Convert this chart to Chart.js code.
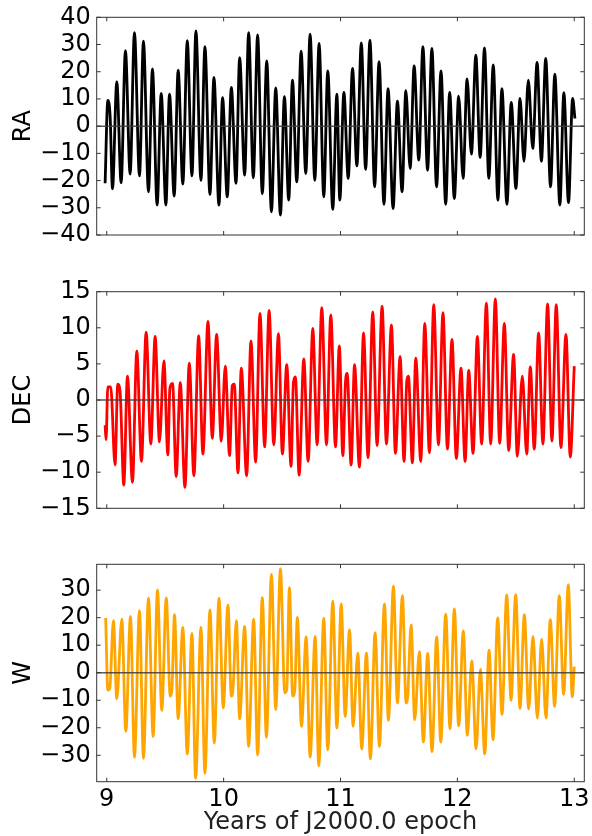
<!DOCTYPE html>
<html>
<head>
<meta charset="utf-8">
<script src="https://cdn.jsdelivr.net/npm/chart.js@4.4.1/dist/chart.umd.min.js"></script>
<style>
  html, body { margin: 0; padding: 0; background: #fff; }
  .panel { position: absolute; left: 0; width: 592px; }
</style>
</head>
<body>
<div class="panel" style="top:0px;height:250px"><canvas id="ra-chart"></canvas></div>
<div class="panel" style="top:275px;height:250px"><canvas id="dec-chart"></canvas></div>
<div class="panel" style="top:545px;height:291px"><canvas id="w-chart"></canvas></div>
<script>
// Các cực đại / cực tiểu của từng chuỗi (năm, giá trị)
const xTicks = [9, 10, 11, 12, 13];

const raYears = [
  8.986, 9.009, 9.029, 9.049, 9.086, 9.123, 9.160, 9.200, 9.237, 9.280,
  9.314, 9.357, 9.391, 9.431, 9.466, 9.506, 9.537, 9.577, 9.611, 9.651,
  9.689, 9.729, 9.763, 9.806, 9.840, 9.883, 9.917, 9.960, 9.991, 10.031,
  10.066, 10.106, 10.137, 10.180, 10.214, 10.254, 10.291, 10.331, 10.369, 10.409,
  10.446, 10.486, 10.520, 10.557, 10.589, 10.626, 10.663, 10.703, 10.740, 10.780,
  10.817, 10.857, 10.891, 10.934, 10.969, 10.994, 11.029, 11.066, 11.103, 11.140,
  11.178, 11.215, 11.252, 11.292, 11.330, 11.372, 11.407, 11.450, 11.487, 11.527,
  11.559, 11.596, 11.630, 11.670, 11.705, 11.745, 11.782, 11.822, 11.860, 11.900,
  11.934, 11.974, 12.011, 12.049, 12.083, 12.120, 12.158, 12.195, 12.232, 12.269,
  12.307, 12.347, 12.381, 12.424, 12.461, 12.501, 12.536, 12.570, 12.607, 12.645,
  12.682, 12.719, 12.756, 12.797, 12.834, 12.877, 12.911, 12.951, 12.986, 13.006
];
const raValues = [
  -21, 9.5, 3.5, -23, 16.3, -20.8, 27.7, -17.6, 34.4, -18.3,
  31.2, -24.1, 21, -29, 12, -29, 11.8, -25.7, 20.6, -21.3,
  31.4, -18.3, 35, -19.9, 29.2, -25.1, 17.9, -29, 10.5, -26,
  14.2, -21, 25.2, -18, 34.4, -19, 33.5, -24.8, 24, -31.5,
  14.1, -32.7, 10.8, -27.2, 16.9, -20.5, 27.6, -17.4, 33.8, -19.9,
  30.4, -26, 20.3, -30.6, 11.8, -27.2, 12.4, -19.2, 21.2, -14.6,
  30.6, -15.9, 31.6, -22.3, 23.7, -28.7, 13.8, -30.3, 9.2, -24.1,
  13, -15.6, 22.1, -12.5, 29.2, -16.2, 28.6, -22.3, 20.3, -28.7,
  12.4, -26.6, 11, -19.2, 17.4, -10.3, 26.1, -11.5, 28.8, -19.2,
  22.5, -27.2, 13.8, -28.7, 8.7, -22.9, 10.2, -12.9, 16.9, -8.2,
  23.4, -12.9, 24.9, -22.3, 19.1, -29, 12.3, -28.1, 10.2, 2.8
];

const decYears = [
  8.986, 8.994, 9.009, 9.034, 9.071, 9.094, 9.114, 9.146, 9.177, 9.220,
  9.257, 9.297, 9.337, 9.377, 9.414, 9.451, 9.489, 9.523, 9.540, 9.563,
  9.594, 9.629, 9.669, 9.706, 9.746, 9.786, 9.823, 9.866, 9.903, 9.940,
  9.980, 10.014, 10.051, 10.074, 10.091, 10.123, 10.151, 10.197, 10.234, 10.274,
  10.311, 10.351, 10.389, 10.429, 10.469, 10.503, 10.540, 10.577, 10.597, 10.614,
  10.646, 10.686, 10.723, 10.763, 10.800, 10.840, 10.880, 10.917, 10.957, 10.990,
  11.020, 11.043, 11.057, 11.091, 11.120, 11.162, 11.197, 11.236, 11.276, 11.313,
  11.356, 11.393, 11.436, 11.470, 11.510, 11.544, 11.567, 11.581, 11.615, 11.644,
  11.687, 11.721, 11.761, 11.798, 11.838, 11.877, 11.915, 11.954, 11.991, 12.031,
  12.066, 12.097, 12.134, 12.171, 12.208, 12.248, 12.285, 12.325, 12.362, 12.402,
  12.439, 12.481, 12.513, 12.556, 12.593, 12.624, 12.658, 12.695, 12.732, 12.772,
  12.809, 12.846, 12.886, 12.929, 12.966, 13.000
];
const decValues = [
  -3.5, -5.5, 1.8, 1.8, -9, 2.2, 1.2, -11.8, 3.3, -11.4,
  6.8, -8.5, 9.4, -6.1, 8.8, -5.8, 5.4, -7.6, 1.6, 2.3,
  -10.6, 2.4, -12.1, 5.1, -10.5, 8.9, -7.5, 10.9, -5.3, 9.1,
  -5.7, 4.7, -7.7, 2.0, 2.2, -10.1, 4.4, -10.5, 8.2, -8.6,
  12, -6.5, 12.4, -6.2, 9.2, -7.5, 4.9, -9.2, 2.4, 3.2,
  -10.4, 5.7, -8.5, 9.9, -6.2, 12.8, -6.2, 11.8, -6.5, 7.5,
  -7.7, 2.6, 3.7, -9, 4.9, -9.3, 9.3, -8, 12.2, -6.3,
  13, -6.1, 10.4, -7.4, 6, -8.5, 2.6, 3.3, -8.7, 5.8,
  -8.5, 10.6, -7.3, 13.2, -6.2, 12.1, -6.8, 8.4, -8.1, 4.4,
  -8.5, 4.1, -7.4, 8.8, -6.1, 13.4, -6.1, 14, -6, 10.6,
  -7, 6.3, -7.8, 3.3, -7.5, 4.6, -6.8, 9.3, -6.1, 13.3,
  -5.7, 13.2, -6.6, 9.1, -7.9, 4.7
];

const wYears = [
  8.991, 9.009, 9.026, 9.057, 9.086, 9.129, 9.163, 9.203, 9.237, 9.280,
  9.314, 9.357, 9.397, 9.434, 9.471, 9.509, 9.543, 9.557, 9.580, 9.611,
  9.651, 9.689, 9.729, 9.760, 9.806, 9.840, 9.883, 9.920, 9.960, 9.997,
  10.037, 10.066, 10.080, 10.109, 10.137, 10.180, 10.214, 10.257, 10.291, 10.331,
  10.366, 10.409, 10.446, 10.486, 10.523, 10.540, 10.563, 10.591, 10.609, 10.631,
  10.666, 10.706, 10.740, 10.783, 10.814, 10.857, 10.891, 10.934, 10.969, 11.006,
  11.040, 11.077, 11.108, 11.148, 11.182, 11.222, 11.256, 11.296, 11.333, 11.376,
  11.410, 11.453, 11.487, 11.530, 11.561, 11.575, 11.604, 11.635, 11.675, 11.709,
  11.746, 11.783, 11.823, 11.858, 11.900, 11.937, 11.974, 12.011, 12.051, 12.085,
  12.123, 12.160, 12.197, 12.234, 12.271, 12.305, 12.345, 12.382, 12.422, 12.459,
  12.499, 12.536, 12.573, 12.610, 12.647, 12.684, 12.721, 12.758, 12.795, 12.832,
  12.872, 12.909, 12.949, 12.983, 13.000
];
const wValues = [
  19.9, -6.3, -5.5, 18.9, -9.5, 19.5, -21.3, 20.5, -30.7, 22.6,
  -31.1, 27.1, -23.2, 30.1, -13.7, 27.2, -8.5, -6.5, 21.1, -16.7,
  16.5, -29.6, 14.3, -38.4, 16.5, -36.6, 22.8, -25.6, 27.1, -12.8,
  24.6, -8.5, -6.1, 18.9, -16.8, 16.8, -26.8, 19.5, -29.9, 27.4,
  -23.5, 35.7, -13.4, 37.8, -7.3, -6.1, 30.9, -8.5, -6.1, 20.1,
  -19.5, 13, -30.7, 13.2, -33.8, 19.8, -28, 26, -20.1, 25,
  -15.9, 15.6, -19.5, 7.1, -27.7, 7.1, -31.3, 14.6, -26.8, 25,
  -17.3, 31.5, -11, 28, -11, -8.5, 17.4, -17.1, 7.7, -25.2,
  7, -28.7, 13, -25.2, 21.3, -20.4, 23.2, -19.3, 15.2, -22.8,
  4.3, -27.7, 1.2, -29.5, 8.2, -24.4, 19.9, -15.2, 28.3, -10,
  28.4, -13, 21.1, -13.2, 13.2, -16.5, 12.2, -16.5, 19.3, -12.2,
  28, -7.9, 32, -8.8, 2.2
];

const FONT = { family: 'DejaVu Sans', size: 24 };

// Khung, vạch chia hướng vào trong và đường 0 (kiểu matplotlib classic)
const framePlugin = {
  id: 'frame',
  afterDatasetsDraw(chart) {
    const { ctx, chartArea: a, scales: { x, y } } = chart;
    ctx.save();
    const y0 = y.getPixelForValue(0);
    ctx.strokeStyle = 'rgba(60,60,60,0.85)';
    ctx.lineWidth = 1.5;
    ctx.beginPath();
    ctx.moveTo(a.left, y0);
    ctx.lineTo(a.right, y0);
    ctx.stroke();

    ctx.strokeStyle = '#333';
    ctx.lineWidth = 1;
    ctx.strokeRect(a.left, a.top, a.right - a.left, a.bottom - a.top);
    ctx.beginPath();
    x.ticks.forEach(t => {
      const px = x.getPixelForValue(t.value);
      ctx.moveTo(px, a.bottom); ctx.lineTo(px, a.bottom - 4);
      ctx.moveTo(px, a.top); ctx.lineTo(px, a.top + 4);
    });
    y.ticks.forEach(t => {
      const py = y.getPixelForValue(t.value);
      ctx.moveTo(a.left, py); ctx.lineTo(a.left + 4, py);
      ctx.moveTo(a.right, py); ctx.lineTo(a.right - 4, py);
    });
    ctx.stroke();
    ctx.restore();
  }
};

function makePanel(id, years, values, color, yMin, yMax, step, label, pad, showX) {
  const points = years.map((t, i) => ({ x: t, y: values[i] }));
  return new Chart(document.getElementById(id), {
    type: 'line',
    data: {
      datasets: [{
        data: points,
        borderColor: color,
        borderWidth: 2.8,
        pointRadius: 0,
        cubicInterpolationMode: 'monotone',
        fill: false
      }]
    },
    options: {
      responsive: true,
      maintainAspectRatio: false,
      animation: false,
      events: [],
      layout: { padding: pad },
      plugins: { legend: { display: false }, tooltip: { enabled: false } },
      scales: {
        x: {
          type: 'linear',
          min: 8.914,
          max: 13.086,
          grid: { display: false, drawTicks: false },
          border: { display: false },
          ticks: {
            display: showX,
            stepSize: 1,
            includeBounds: false,
            autoSkip: false,
            color: '#000',
            font: FONT,
            padding: 4,
            maxRotation: 0
          },
          title: {
            display: showX,
            text: 'Years of J2000.0 epoch',
            color: '#222',
            font: FONT,
            padding: { top: 0, bottom: -1 }
          },
          afterBuildTicks: s => { s.ticks = xTicks.map(v => ({ value: v })); },
          afterFit: s => {
            s.height = showX ? 54.3 : 0;
            s.paddingLeft = 0;
            s.paddingRight = 0;
          }
        },
        y: {
          min: yMin,
          max: yMax,
          grid: { display: false, drawTicks: false },
          border: { display: false },
          ticks: {
            stepSize: step,
            includeBounds: false,
            autoSkip: false,
            color: '#000',
            font: FONT,
            padding: 6,
            callback: v => (v < 0 ? '\u2212' + Math.abs(v) : '' + v)
          },
          title: {
            display: true,
            text: label,
            color: '#000',
            font: FONT,
            padding: { top: 9, bottom: 0 }
          },
          afterFit: s => {
            s.width = 96.7;
            s.paddingTop = 0;
            s.paddingBottom = 0;
          }
        }
      }
    },
    plugins: [framePlugin]
  });
}

makePanel('ra-chart', raYears, raValues, '#000000', -40, 40, 10, 'RA',
  { left: 0, right: 7.7, top: 17.3, bottom: 15 }, false);
makePanel('dec-chart', decYears, decValues, '#ff0000', -15, 15, 5, 'DEC',
  { left: 0, right: 7.7, top: 16.7, bottom: 16.7 }, false);
makePanel('w-chart', wYears, wValues, '#ffa500', -39.6, 39.4, 10, 'W',
  { left: 0, right: 7.7, top: 19.3, bottom: 0 }, true);
</script>
</body>
</html>
